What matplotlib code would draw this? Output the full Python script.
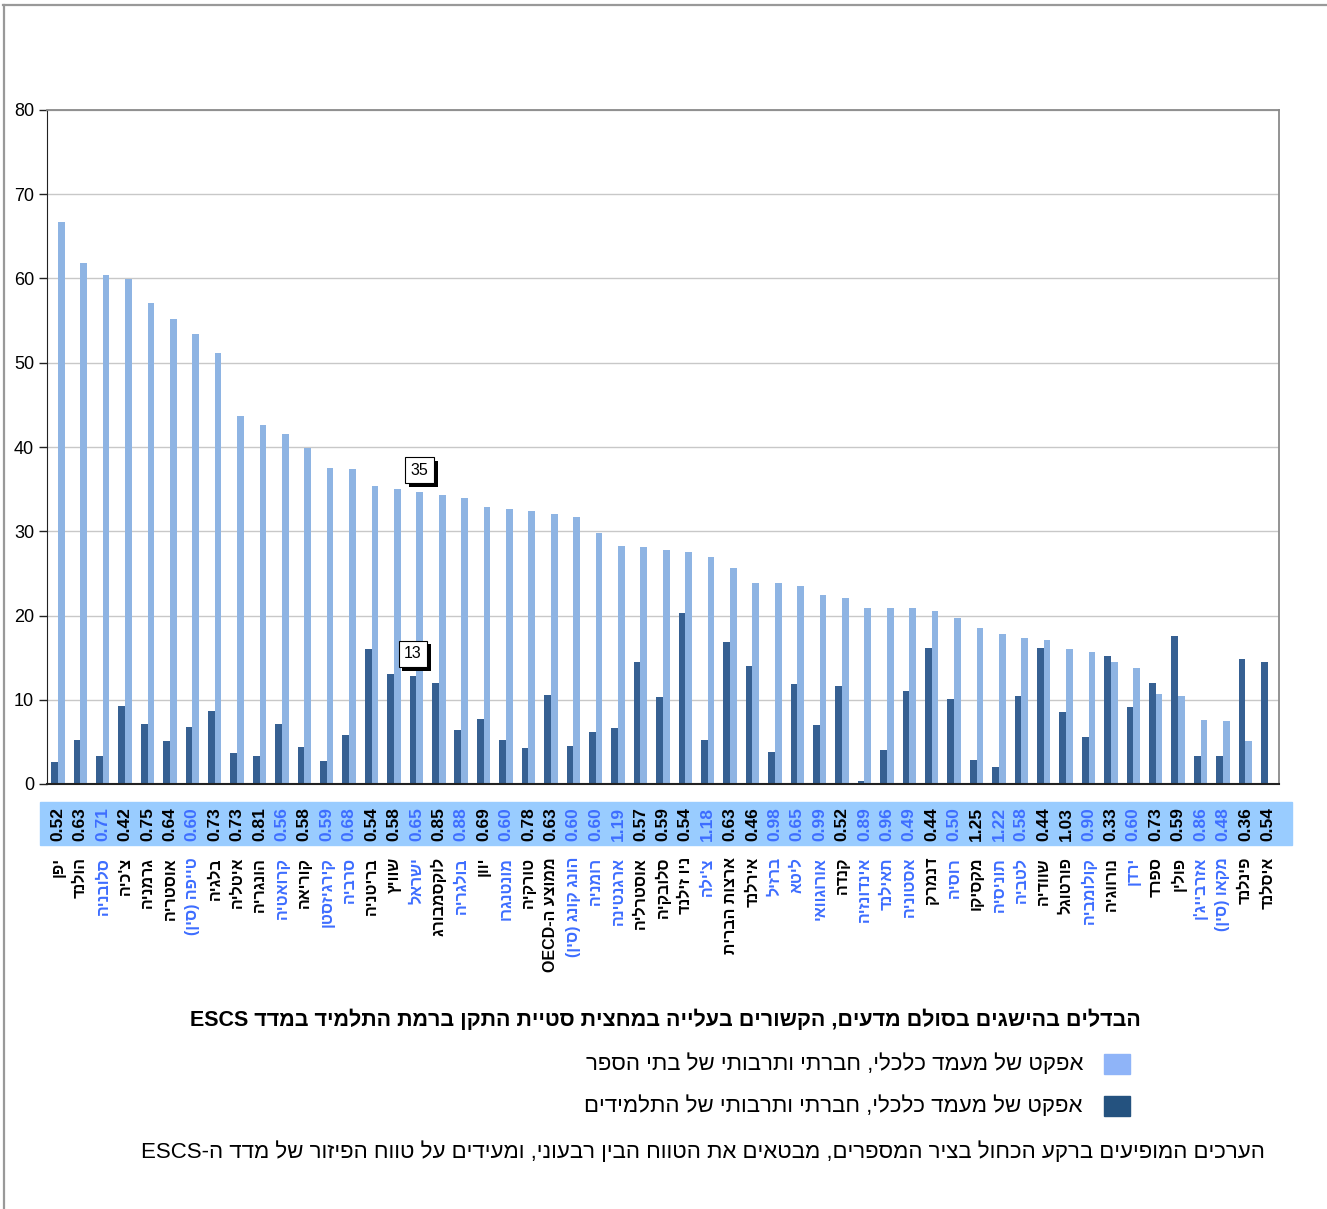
import re

import numpy as np
import matplotlib
matplotlib.use("Agg")
import matplotlib.pyplot as plt
import matplotlib.patheffects as pe
from matplotlib.patches import Rectangle
from matplotlib.lines import Line2D

plt.rcParams["font.family"] = ["Liberation Sans", "DejaVu Sans"]

countries = [
    "יפן", "הולנד", "סלובניה", "צ'כיה", "גרמניה", "אוסטריה", "טייפה (סין)",
    "בלגיה", "איטליה", "הונגריה", "קרואטיה", "קוריאה", "קירגיזסטן", "סרביה",
    "בריטניה", "שוויץ", "ישראל", "לוקסמבורג", "בולגריה", "יוון", "מונטנגרו",
    "טורקיה", "ממוצע ה-OECD", "הונג קונג (סין)", "רומניה", "ארגנטינה",
    "אוסטרליה", "סלובקיה", "ניו זילנד", "צ'ילה", "ארצות הברית", "אירלנד",
    "ברזיל", "ליטא", "אורוגוואי", "קנדה", "אינדונזיה", "תאילנד", "אסטוניה",
    "דנמרק", "רוסיה", "מקסיקו", "תוניסיה", "לטביה", "שוודיה", "פורטוגל",
    "קולומביה", "נורווגיה", "ירדן", "ספרד", "פולין", "אזרבייג'ן", "מקאו (סין)",
    "פינלנד", "איסלנד",
]
# 1 = partner country (printed in blue)
partner = [0, 0, 1, 0, 0, 0, 1, 0, 0, 0, 1, 0, 1, 1, 0, 0, 1, 0, 1, 0, 1, 0, 0, 1,
           1, 1, 0, 0, 0, 1, 0, 0, 1, 1, 1, 0, 1, 1, 1, 0, 1, 0, 1, 1, 0, 0, 1, 0,
           1, 0, 0, 1, 1, 0, 0]
# inter-quartile range of the ESCS index
escs_iqr = [0.52, 0.63, 0.71, 0.42, 0.75, 0.64, 0.60, 0.73, 0.73, 0.81, 0.56, 0.58,
            0.59, 0.68, 0.54, 0.58, 0.65, 0.85, 0.88, 0.69, 0.60, 0.78, 0.63, 0.60,
            0.60, 1.19, 0.57, 0.59, 0.54, 1.18, 0.63, 0.46, 0.98, 0.65, 0.99, 0.52,
            0.89, 0.96, 0.49, 0.44, 0.50, 1.25, 1.22, 0.58, 0.44, 1.03, 0.90, 0.33,
            0.60, 0.73, 0.59, 0.86, 0.48, 0.36, 0.54]
school_effect = [66.7, 61.8, 60.4, 59.9, 57.1, 55.2, 53.4, 51.1, 43.7, 42.6, 41.6,
                 39.9, 37.5, 37.4, 35.4, 35.0, 34.6, 34.3, 34.0, 32.9, 32.6, 32.4,
                 32.0, 31.7, 29.8, 28.2, 28.1, 27.8, 27.5, 27.0, 25.6, 23.8, 23.8,
                 23.5, 22.4, 22.1, 20.9, 20.9, 20.9, 20.5, 19.7, 18.5, 17.8, 17.3,
                 17.1, 16.0, 15.7, 14.5, 13.8, 10.7, 10.4, 7.6, 7.5, 5.1, np.nan]
student_effect = [2.6, 5.2, 3.3, 9.2, 7.1, 5.1, 6.8, 8.7, 3.7, 3.3, 7.1, 4.4, 2.7,
                  5.8, 16.0, 13.0, 12.8, 12.0, 6.4, 7.7, 5.2, 4.3, 10.6, 4.5, 6.2,
                  6.6, 14.5, 10.3, 20.3, 5.2, 16.8, 14.0, 3.8, 11.9, 7.0, 11.6, 0.35,
                  4.0, 11.0, 16.1, 10.1, 2.8, 2.0, 10.4, 16.1, 8.5, 5.6, 15.2, 9.1,
                  12.0, 17.6, 3.3, 3.3, 14.8, 14.5]
highlight = "ישראל"

title = "הבדלים בהישגים בסולם מדעים, הקשורים בעלייה במחצית סטיית התקן ברמת התלמיד במדד ESCS"
legend_school = "אפקט של מעמד כלכלי, חברתי ותרבותי של בתי הספר"
legend_student = "אפקט של מעמד כלכלי, חברתי ותרבותי של התלמידים"
note = "הערכים המופיעים ברקע הכחול בציר המספרים, מבטאים את הטווח הבין רבעוני, ומעידים על טווח הפיזור של מדד ה-ESCS"

LIGHT = "#8eb4e3"
DARK = "#366092"
BLUE_TXT = "#3d6dff"
W, H = 1327, 1209


def visual(s):
    # matplotlib has no bidi support: lay Hebrew out right-to-left by hand
    r = s[::-1].translate(str.maketrans("()", ")("))
    return re.sub(r"[A-Za-z0-9.]+", lambda m: m.group(0)[::-1], r)


def fx(px):
    return px / W


def fy(py):
    return (H - py) / H


fig = plt.figure(figsize=(W / 100, H / 100), dpi=100)
ax_top, ax_bot = 110, 784
ax = fig.add_axes([fx(46.7), fy(ax_bot), fx(1279) - fx(46.7), (ax_bot - ax_top) / H])

n = len(countries)
x = np.arange(n)
ax.bar(x - 0.15, student_effect, 0.3, color=DARK, zorder=2)
ax.bar(x + 0.15, school_effect, 0.3, color=LIGHT, zorder=2)

ax.set_xlim(-0.5, n - 0.5)
ax.set_ylim(0, 80)
ax.set_yticks(range(0, 81, 10))
ax.set_xticks([])
ax.yaxis.grid(True, color="#c8c8c8", lw=1)
ax.set_axisbelow(True)
ax.tick_params(axis="y", length=6, width=1, color="#222222", labelsize=13, pad=3)
ax.spines["left"].set_color("#222222")
ax.spines["bottom"].set_color("#222222")
ax.spines["bottom"].set_linewidth(1.5)
for s in ("top", "right"):
    ax.spines[s].set_color("#8a8a8a")
    ax.spines[s].set_linewidth(1.3)

# value labels for Israel
i_isr = countries.index(highlight)
shadow = [pe.withSimplePatchShadow(offset=(2.5, -2.5), shadow_rgbFace="black", alpha=1)]
for off, val in ((0.15, school_effect[i_isr]), (-0.15, student_effect[i_isr])):
    t = ax.annotate(f"{val:.0f}", (i_isr + off, val), xytext=(0, 16),
                    textcoords="offset points", ha="center", va="center", fontsize=11.5,
                    bbox=dict(boxstyle="square,pad=0.35", fc="white", ec="black", lw=0.8),
                    zorder=5)
    t.get_bbox_patch().set_path_effects(shadow)

# ESCS inter-quartile strip, drawn beneath the axes
fig.patches.append(Rectangle((fx(40), fy(845)), fx(1292) - fx(40), 43 / H,
                             transform=fig.transFigure, color="#99ccff", zorder=-1))
ax.patch.set_alpha(0)
trans = ax.get_xaxis_transform()
y_num = (ax_bot - 824) / (ax_bot - ax_top)
y_lab = (ax_bot - 857) / (ax_bot - ax_top)
for i, (name, iqr, p) in enumerate(zip(countries, escs_iqr, partner)):
    c = BLUE_TXT if p else "black"
    ax.text(i, y_num, f"{iqr:.2f}", transform=trans, rotation=90,
            ha="center", va="center", fontsize=12.5, fontweight="bold", color=c,
            clip_on=False)
    ax.text(i, y_lab, visual(name), transform=trans, rotation=90, ha="center",
            va="top", fontsize=11.5, fontweight="bold", color=c, clip_on=False)

fig.text(fx(665), fy(1020), visual(title), ha="center", va="center",
         fontsize=15.5, fontweight="bold")

for yc, col, lab in ((1064, "#8fb4f8", legend_school), (1106, "#24527f", legend_student)):
    fig.patches.append(Rectangle((fx(1104), fy(yc + 10)), fx(1130) - fx(1104), 20 / H,
                                 transform=fig.transFigure, color=col))
    fig.text(fx(1083), fy(yc), visual(lab), ha="right", va="center", fontsize=16)

fig.text(fx(1265), fy(1152), visual(note), ha="right", va="center", fontsize=16)

# outer frame
fig.lines.append(Line2D([fx(3), 1], [fy(5), fy(5)], transform=fig.transFigure,
                        color="#999999", lw=1.6))
fig.lines.append(Line2D([fx(4), fx(4)], [fy(5), 0], transform=fig.transFigure,
                        color="#999999", lw=1.6))

fig.savefig("out.png", dpi=100)
